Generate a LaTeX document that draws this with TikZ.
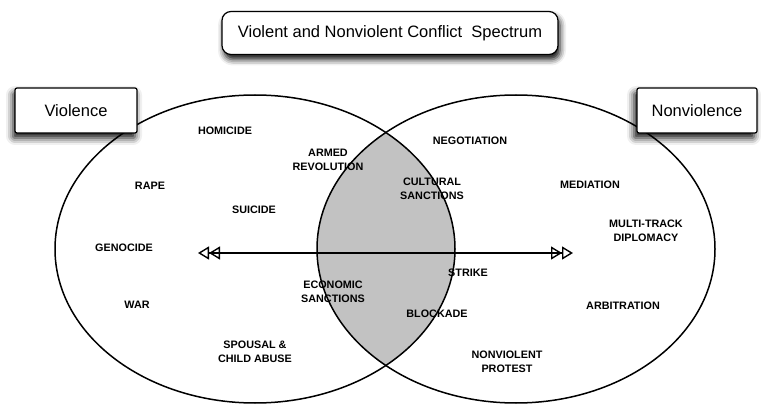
\documentclass[tikz,border=0pt]{standalone}
\usepackage{fontspec}
\setmainfont{Liberation Sans}
\usetikzlibrary{arrows.meta,shadows.blur}
\tikzset{
  lbl/.style={font=\fontsize{10.8}{14.5}\selectfont\bfseries, align=center, inner sep=0pt},
  hbox/.style={draw, line width=1.2pt, fill=white, inner sep=0pt, font=\fontsize{16.5}{18}\selectfont},
  ell/.style={line width=1.5pt},
  dtri/.style={-{Triangle[open,length=11pt,width=13pt,line width=1.4pt]Triangle[open,length=11pt,width=13pt,line width=1.4pt]}}
}
\begin{document}
\begin{tikzpicture}[x=1pt,y=-1pt]
\useasboundingbox (0,0) rectangle (761,406);
% lens
\begin{scope}
  \clip (255,249) ellipse [x radius=200pt, y radius=154pt];
  \fill[black!24] (516,249) ellipse [x radius=199pt, y radius=154pt];
\end{scope}
\draw[ell] (255,249) ellipse [x radius=200pt, y radius=154pt];
\draw[ell] (516,249) ellipse [x radius=199pt, y radius=154pt];
% arrow
\coordinate (al) at (198,253);
\coordinate (ar) at (573,253);
\draw[line width=1.4pt, dtri] (386,253) -- (al);
\draw[line width=1.4pt, dtri] (386,253) -- (ar);
% boxes
\node[hbox, rounded corners=9pt, minimum width=336pt, minimum height=43pt,
  blur shadow={shadow xshift=2pt, shadow yshift=-5pt, shadow blur radius=6pt, shadow opacity=95}]
  (title) at (390,33) {Violent and Nonviolent Conflict\ \ Spectrum};
\node[hbox, rounded corners=2pt, minimum width=122pt, minimum height=45pt,
  blur shadow={shadow xshift=-2pt, shadow yshift=-5pt, shadow blur radius=7pt, shadow opacity=95}]
  (viol) at (76,110.5) {Violence};
\node[hbox, rounded corners=2pt, minimum width=120pt, minimum height=45pt,
  blur shadow={shadow xshift=-3pt, shadow yshift=-5pt, shadow blur radius=7pt, shadow opacity=95}]
  (nonviol) at (697,110.5) {Nonviolence};
% labels
\node[lbl] (homicide) at (225,131) {HOMICIDE};
\node[lbl] (armed) at (328,160) {ARMED\\REVOLUTION};
\node[lbl] (cultural) at (432,189) {CULTURAL\\SANCTIONS};
\node[lbl] (negot) at (470,141) {NEGOTIATION};
\node[lbl] (mediation) at (590,185) {MEDIATION};
\node[lbl] (multitrack) at (646,231) {MULTI-TRACK\\DIPLOMACY};
\node[lbl] (rape) at (150,186) {RAPE};
\node[lbl] (suicide) at (254,210) {SUICIDE};
\node[lbl] (genocide) at (124,248) {GENOCIDE};
\node[lbl] (war) at (137,305) {WAR};
\node[lbl] (spousal) at (255,352) {SPOUSAL \&\\CHILD ABUSE};
\node[lbl] (economic) at (333,292) {ECONOMIC\\SANCTIONS};
\node[lbl] (strike) at (468,273) {STRIKE};
\node[lbl] (blockade) at (437,314) {BLOCKADE};
\node[lbl] (arbitration) at (623,306) {ARBITRATION};
\node[lbl] (protest) at (507,362) {NONVIOLENT\\PROTEST};
\end{tikzpicture}
\end{document}
